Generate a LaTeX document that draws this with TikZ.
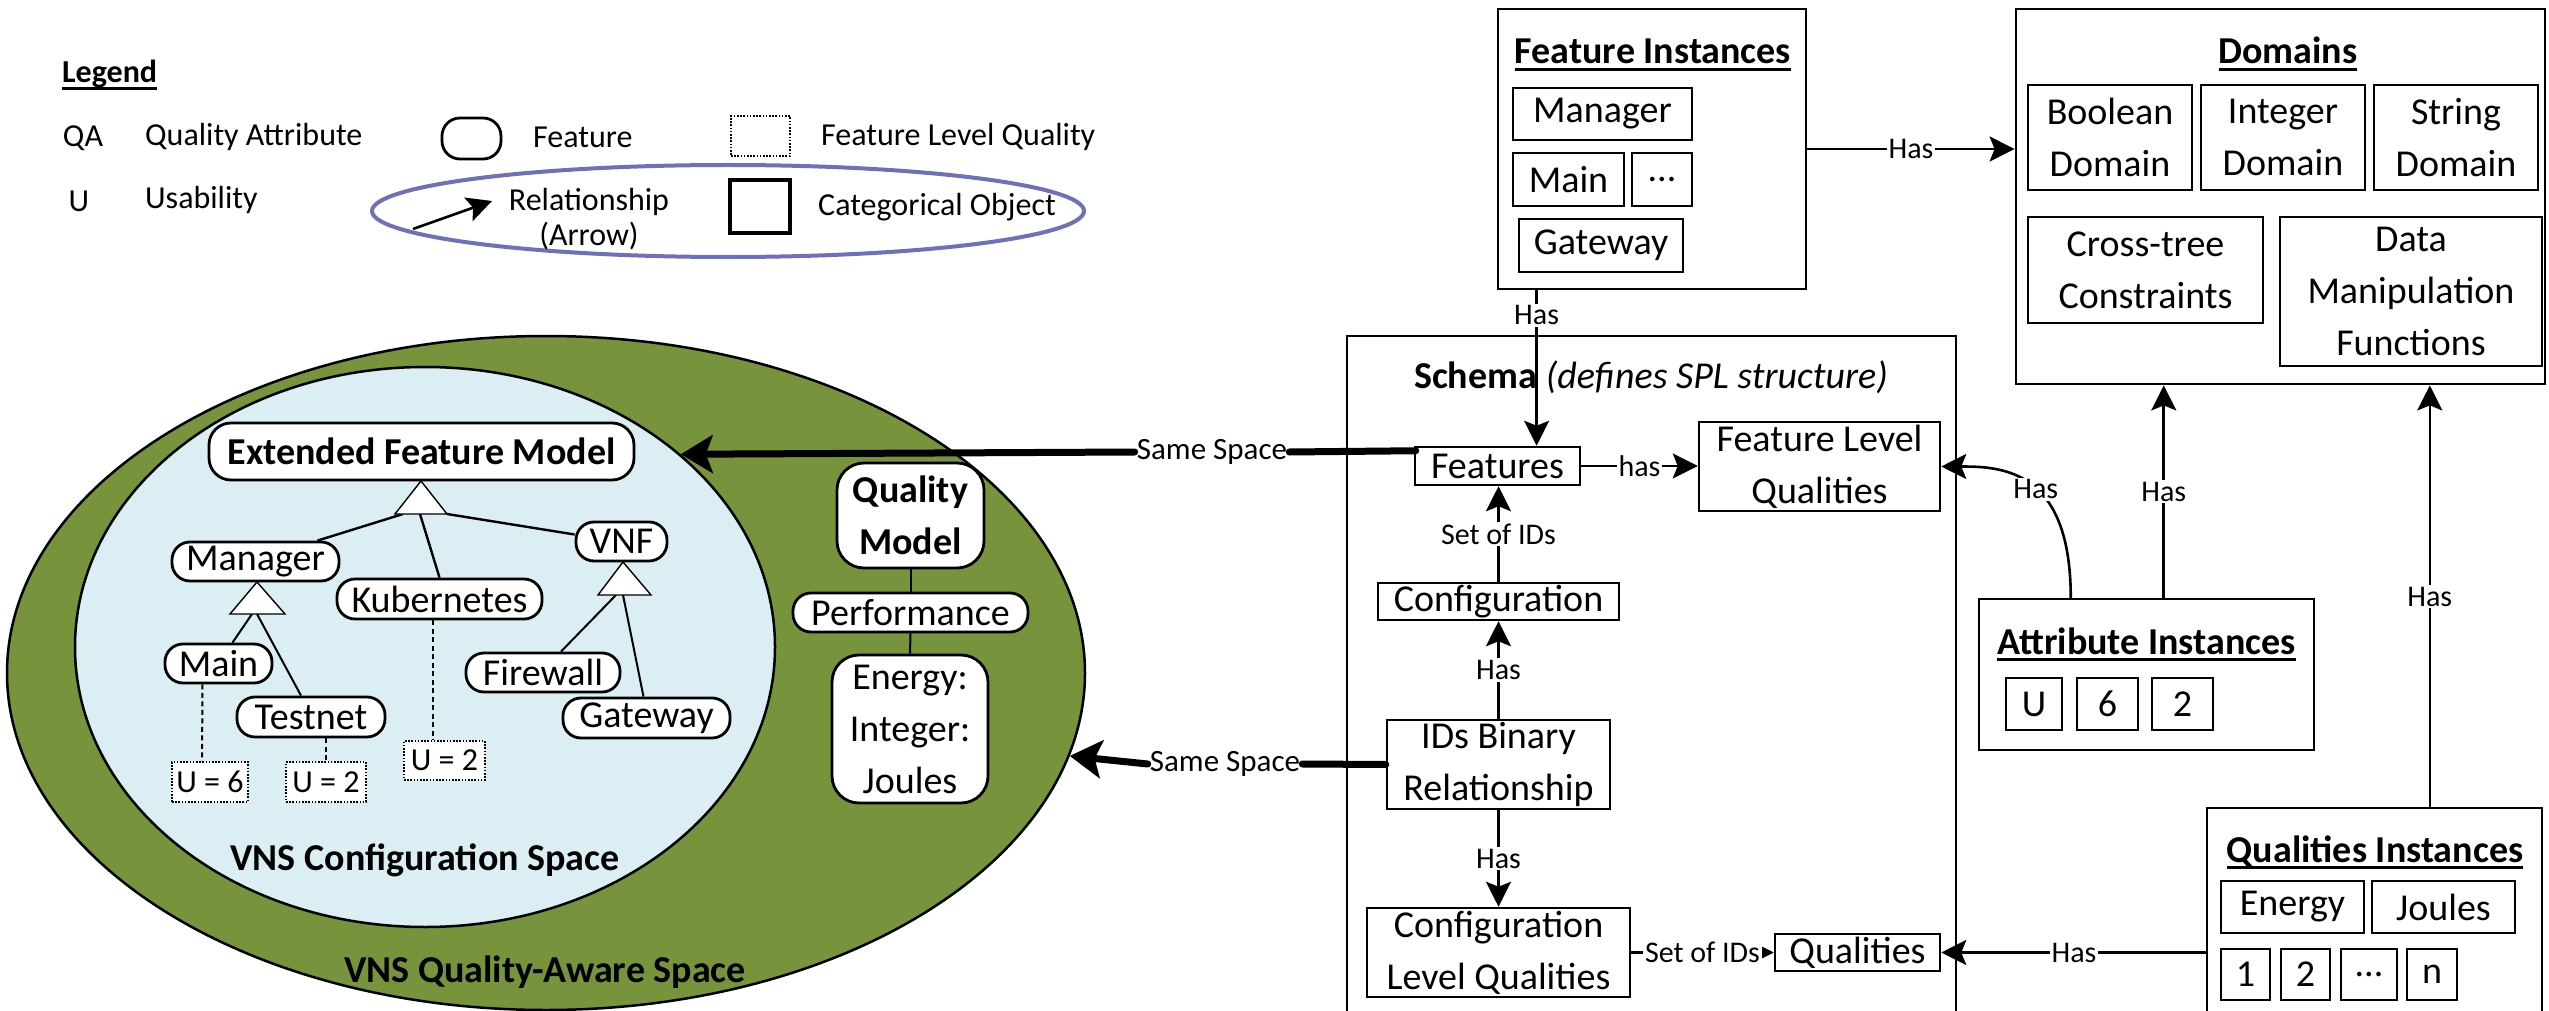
\documentclass[tikz,border=0pt]{standalone}
\usepackage{fontspec}
\setmainfont{Carlito}
\usetikzlibrary{arrows.meta,calc,shapes.geometric}

\definecolor{qgreen}{HTML}{77933C}
\definecolor{cfgblue}{HTML}{DAEEF3}
\definecolor{legblue}{HTML}{6E70B9}

% underlined heading text
\newcommand\ultext[1]{\setbox0\hbox{#1}\rlap{\rule[-7pt]{\wd0}{3pt}}\box0}

\begin{document}
\begin{tikzpicture}[x=1pt, y=-1pt,
  f38/.style={font=\fontsize{38}{52}\selectfont},
  f38b/.style={font=\fontsize{38}{52}\selectfont\bfseries},
  f32/.style={font=\fontsize{32}{35}\selectfont},
  lbl/.style={fill=white, inner sep=2pt, font=\fontsize{30}{36}\selectfont},
  catbox/.style={draw, line width=2.8pt, inner sep=0pt, align=center, f38},
  schbox/.style={draw, line width=2.5pt, inner sep=0pt, align=center, f38},
  featnode/.style={draw, fill=white, line width=2.8pt, rounded corners=18pt, inner sep=0pt, align=center, f38},
  qualnode/.style={draw, fill=white, line width=1.4pt, dash pattern=on 1.6pt off 1.6pt, inner sep=0pt, font=\fontsize{32}{36}\selectfont},
  conn/.style={line width=2.6pt, -{Stealth[length=25pt, width=25pt, inset=5pt]}},
  samesp/.style={line width=7pt, line cap=round},
  bigtip/.style={-{Stealth[length=32pt, width=38pt, inset=7pt]}},
  treeline/.style={line width=2.4pt},
  tri/.style={draw, fill=white, line width=1.4pt},
  qdash/.style={line width=2pt, dash pattern=on 5pt off 3.5pt},
]
\fill[white] (0,0) rectangle (2549,1011);
\useasboundingbox (0,0) rectangle (2549,1011);

% ---------------- legend ----------------
\node[anchor=base west, inner sep=0pt, font=\fontsize{32}{35}\selectfont\bfseries] (legtitle) at (62,83) {\ultext{Legend}};
\node[f32, inner sep=0pt] (qa) at (83,138) {QA};
\node[f32, inner sep=0pt, anchor=west] (qatxt) at (145,137) {Quality Attribute};
\node[f32, inner sep=0pt] (usym) at (79,201) {U};
\node[f32, inner sep=0pt, anchor=west] (utxt) at (145,200) {Usability};
\node[draw, line width=2.8pt, rounded corners=18pt, minimum width=59pt, minimum height=41pt, inner sep=0pt] (legfeat) at (471.5,138.5) {};
\node[f32, inner sep=0pt, anchor=west] (legfeattxt) at (533,137) {Feature};
\node[draw, line width=1.4pt, dash pattern=on 1.6pt off 1.6pt, minimum width=59pt, minimum height=40pt, inner sep=0pt] (legflq) at (760.5,136) {};
\node[f32, inner sep=0pt, anchor=west] (legflqtxt) at (821,137) {Feature Level Quality};
\node[draw=legblue, line width=4pt, ellipse, minimum width=712pt, minimum height=92pt, inner sep=0pt] (legring) at (728,211) {};
\coordinate (legA) at (413,229);
\coordinate (legB) at (492,201);
\draw[conn] (legA) -- (legB);
\node[f32, inner sep=0pt, align=center] (legrel) at (589,219.5) {Relationship\\(Arrow)};
\node[draw, line width=4pt, minimum width=60pt, minimum height=53pt, inner sep=0pt] (legcat) at (760,206.5) {};
\node[f32, inner sep=0pt, anchor=west] (legcattxt) at (818,207) {Categorical Object};

% ---------------- spaces ----------------
\node[draw, line width=2.5pt, fill=qgreen, ellipse, minimum width=1078pt, minimum height=674pt, inner sep=0pt] (qaspace) at (546,673) {};
\node[draw, line width=2.5pt, fill=cfgblue, ellipse, minimum width=700pt, minimum height=560pt, inner sep=0pt] (cfgspace) at (425,647) {};
\node[f38b, inner sep=0pt] (cfgtitle) at (425,860) {VNS Configuration Space};
\node[f38b, inner sep=0pt] (qatitle) at (545,972) {VNS Quality-Aware Space};

% ---------------- extended feature model ----------------
\node[featnode, f38b, rounded corners=22pt, minimum width=425pt, minimum height=57pt] (efm) at (421.5,451.5) {Extended Feature Model};
\node[featnode, minimum width=167pt, minimum height=39pt] (man) at (255.5,561.5) {Manager};
\node[featnode, minimum width=205pt, minimum height=40pt] (kub) at (439.5,599) {Kubernetes};
\node[featnode, minimum width=91pt, minimum height=39pt] (vnf) at (621.5,541.5) {VNF};
\node[featnode, minimum width=107pt, minimum height=39pt] (fmain) at (218.5,663.5) {Main};
\node[featnode, minimum width=148pt, minimum height=40pt] (tnet) at (311,717) {Testnet};
\node[featnode, minimum width=154pt, minimum height=39pt] (fw) at (543,672.5) {Firewall};
\node[featnode, minimum width=167pt, minimum height=40pt] (gw) at (646.5,718) {Gateway};
\node[qualnode, minimum width=76pt, minimum height=40pt] (u6) at (210,782) {U = 6};
\node[qualnode, minimum width=80pt, minimum height=40pt] (u2t) at (326,782) {U = 2};
\node[qualnode, minimum width=81pt, minimum height=39pt] (u2k) at (444.5,760.5) {U = 2};

% decomposition triangles
\coordinate (efmTop) at (421,481);
\coordinate (efmL) at (395,514);
\coordinate (efmR) at (447,514);
\coordinate (manTop) at (257,582);
\coordinate (manL) at (230,614);
\coordinate (manR) at (285,614);
\coordinate (vnfTop) at (623,562);
\coordinate (vnfL) at (598,595);
\coordinate (vnfR) at (651,595);

\draw[treeline] ($(efmL)+(8,0)$) -- ($(man.north)+(62,0)$);
\draw[treeline] ($(efmL)+(25,0)$) -- (kub.north);
\draw[treeline] (efmR) -- ($(vnf.west)+(0,-7)$);
\draw[treeline, line width=2pt] ($(manL)+(22,0)$) -- ($(fmain.north)+(14,0)$);
\draw[treeline, line width=2pt] ($(manL)+(27,0)$) -- ($(tnet.north)+(-10,0)$);
\draw[treeline, line width=2pt] ($(vnfL)+(18,0)$) -- ($(fw.north)+(18,0)$);
\draw[treeline, line width=2pt] ($(vnfL)+(25,0)$) -- ($(gw.north)+(-3,0)$);
\draw[tri] (efmTop) -- (efmR) -- (efmL) -- cycle;
\draw[tri] (manTop) -- (manR) -- (manL) -- cycle;
\draw[tri] (vnfTop) -- (vnfR) -- (vnfL) -- cycle;

\draw[qdash] ($(fmain.south)+(-16,0)$) -- ($(u6.north)+(-8,0)$);
\draw[qdash] ($(tnet.south)+(15,0)$) -- (u2t.north);
\draw[qdash] ($(kub.south)+(-7,0)$) -- ($(u2k.north)+(-12,0)$);

% ---------------- quality model ----------------
\node[featnode, f38b, rounded corners=27pt, minimum width=147pt, minimum height=105pt] (qm) at (910.5,515.5) {Quality\\Model};
\node[featnode, minimum width=235pt, minimum height=39pt] (perf) at (910.5,612.5) {Performance};
\node[featnode, rounded corners=27pt, minimum width=156pt, minimum height=148pt] (energy) at (910,729) {Energy:\\Integer:\\Joules};
\draw[line width=2pt] (qm.south) -- (perf.north);
\draw[line width=2pt] (perf.south) -- (energy.north);

% ---------------- schema ----------------
\node[minimum width=609pt, minimum height=675pt, inner sep=0pt] (schema) at (1651.5,673.5) {};
\draw[line width=2.5pt] (schema.south west) -- (schema.north west) -- (schema.north east) -- (schema.south east);
\node[f38, inner sep=0pt] (schtitle) at (1651,377) {\textbf{Schema} \textit{(defines SPL structure)}};
\node[schbox, minimum width=165pt, minimum height=38pt] (feat) at (1497.5,466) {Features};
\node[schbox, minimum width=241pt, minimum height=89pt] (flq) at (1819.5,466.5) {Feature Level\\Qualities};
\node[schbox, minimum width=241pt, minimum height=37pt] (conf) at (1498.5,601.5) {Configuration};
\node[schbox, minimum width=223pt, minimum height=89pt] (ids) at (1498.5,764.5) {IDs Binary\\Relationship};
\node[schbox, minimum width=263pt, minimum height=89pt] (clq) at (1498.5,952.5) {Configuration\\Level Qualities};
\node[schbox, minimum width=165pt, minimum height=37pt] (qual) at (1857.5,952.5) {Qualities};

\draw[conn] (feat.east) -- node[lbl] {has} (feat.east -| flq.west);
\draw[conn] (conf.north) -- node[lbl] {Set of IDs} (conf.north |- feat.south);
\draw[conn] (ids.north) -- node[lbl] {Has} (ids.north |- conf.south);
\draw[conn] (ids.south) -- node[lbl] {Has} (ids.south |- clq.north);
\draw[conn] (clq.east) -- node[lbl] {Set of IDs} (clq.east -| qual.west);

% ---------------- same-space links ----------------
\node[inner sep=2pt, font=\fontsize{31}{36}\selectfont] (ss1) at (1212,452) {Same Space};
\node[inner sep=2pt, font=\fontsize{31}{36}\selectfont] (ss2) at (1225,764) {Same Space};
\draw[samesp] ($(feat.north west)+(2,5)$) -- (ss1.east);
\draw[samesp, bigtip] (ss1.west) -- (cfgspace.37.8);
\draw[samesp] (ids.west) -- (ss2.east);
\draw[samesp, bigtip] (ss2.west) -- (qaspace.-9.95);

% ---------------- feature instances ----------------
\node[draw, line width=2.8pt, minimum width=308pt, minimum height=280pt, inner sep=0pt] (fi) at (1652,149) {};
\node[anchor=base, inner sep=0pt, f38b] (fititle) at (1653,64) {\ultext{Feature Instances}};
\node[catbox, minimum width=179pt, minimum height=52pt] (fiman) at (1602.5,114) {Manager};
\node[catbox, minimum width=111pt, minimum height=53pt] (fimain) at (1568.5,179.5) {Main};
\node[catbox, minimum width=60pt, minimum height=53pt] (fidots) at (1662,179.5) {...};
\node[catbox, minimum width=164pt, minimum height=53pt] (figw) at (1601,245.5) {Gateway};
\coordinate (fiHas) at ($(fi.south west)+(40,0)$);
\draw[conn] (fiHas) -- node[lbl, pos=0.16] {Has} (fiHas |- feat.north);

% ---------------- domains ----------------
\node[draw, line width=2.8pt, minimum width=529pt, minimum height=375pt, inner sep=0pt] (dom) at (2280.5,196.5) {};
\node[anchor=base, inner sep=0pt, f38b] (domtitle) at (2288,64) {\ultext{Domains}};
\node[catbox, minimum width=164pt, minimum height=105pt] (booldom) at (2110,137.5) {Boolean\\Domain};
\node[catbox, minimum width=164pt, minimum height=105pt] (intdom) at (2283,137.5) {Integer\\Domain};
\node[catbox, minimum width=164pt, minimum height=105pt] (strdom) at (2456,137.5) {String\\Domain};
\node[catbox, minimum width=235pt, minimum height=106pt] (cross) at (2145.5,270) {Cross-tree\\Constraints};
\node[catbox, minimum width=262pt, minimum height=149pt] (dmf) at (2411,291.5) {Data\\Manipulation\\Functions};
\draw[conn] (fi.east) -- node[lbl] {Has} (fi.east -| dom.west);

% ---------------- attribute instances ----------------
\node[draw, line width=2.5pt, minimum width=335pt, minimum height=151pt, inner sep=0pt] (ai) at (2146.5,674.5) {};
\node[anchor=base, inner sep=0pt, f38b] (aititle) at (2146.5,654) {\ultext{Attribute Instances}};
\node[catbox, line width=2.5pt, minimum width=56pt, minimum height=52pt] (aiu) at (2034,704) {U};
\node[catbox, line width=2.5pt, minimum width=61pt, minimum height=52pt] (ai6) at (2107.5,704) {6};
\node[catbox, line width=2.5pt, minimum width=61pt, minimum height=52pt] (ai2) at (2182.5,704) {2};
\coordinate (aiTop) at ($(ai.north west)+(186,0)$);
\coordinate (aiCurve) at ($(ai.north west)+(93,0)$);
\draw[conn] (aiTop) -- node[lbl] {Has} (aiTop |- dom.south);
\draw[conn] (aiCurve) .. controls +(0,-129) and +(60,0) .. node[lbl, pos=0.45] {Has} (flq.east);

% ---------------- qualities instances ----------------
\node[minimum width=335pt, minimum height=203pt, inner sep=0pt] (qi) at (2374.5,909.5) {};
\draw[line width=2.5pt] (qi.south west) -- (qi.north west) -- (qi.north east) -- (qi.south east);
\node[anchor=base, inner sep=0pt, f38b] (qititle) at (2375,862) {\ultext{Qualities Instances}};
\node[catbox, line width=2.5pt, minimum width=143pt, minimum height=52pt] (qien) at (2292.5,907) {Energy};
\node[catbox, line width=2.5pt, minimum width=143pt, minimum height=52pt] (qijo) at (2443.5,907) {Joules};
\node[catbox, line width=2.5pt, minimum width=49pt, minimum height=51pt] (qione) at (2245.5,974.5) {1};
\node[catbox, line width=2.5pt, minimum width=49pt, minimum height=51pt] (qitwo) at (2305.5,974.5) {2};
\node[catbox, line width=2.5pt, minimum width=56pt, minimum height=51pt] (qidots) at (2369,974.5) {...};
\node[catbox, line width=2.5pt, minimum width=50pt, minimum height=51pt] (qin) at (2432,974.5) {n};
\coordinate (qiTop) at ($(qi.north west)+(223,0)$);
\draw[conn] (qiTop) -- node[lbl] {Has} (qiTop |- dom.south);
\draw[conn] (qual.east -| qi.west) -- node[lbl] {Has} (qual.east);

\end{tikzpicture}
\end{document}
